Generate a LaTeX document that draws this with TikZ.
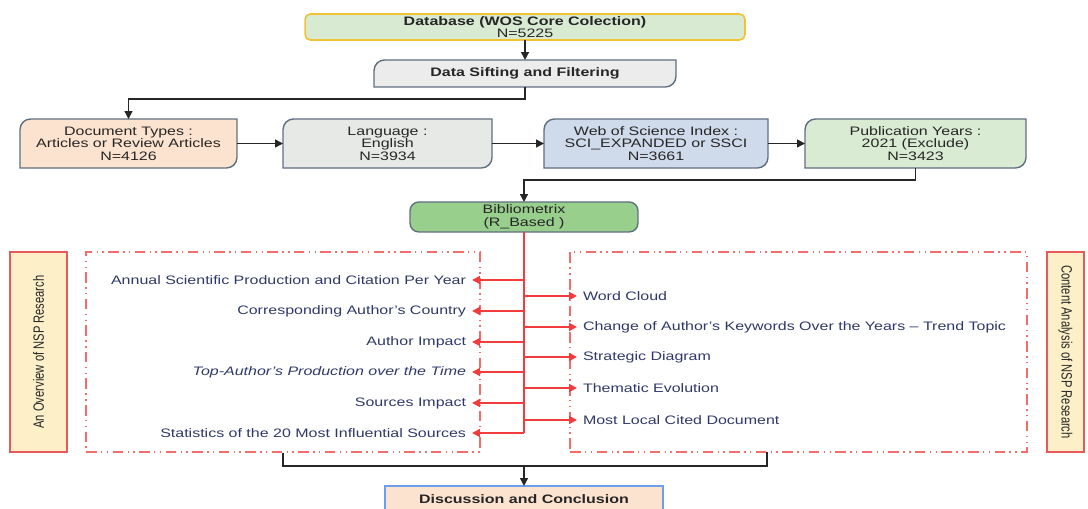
\documentclass[tikz,border=0pt]{standalone}
\usepackage{fontspec}
\setmainfont{Liberation Sans}[FakeStretch=1.3]
\newfontfamily\sidefont{Liberation Sans}[FakeStretch=0.75]
\usetikzlibrary{arrows.meta,backgrounds}

\definecolor{dbgreen}{HTML}{D9EAD3}
\definecolor{dbyellow}{HTML}{F1C232}
\definecolor{siftgray}{HTML}{ECECEC}
\definecolor{slate}{HTML}{5F6F82}
\definecolor{peach}{HTML}{FCE3CF}
\definecolor{langgray}{HTML}{E7E9E7}
\definecolor{wosblue}{HTML}{CFDBEA}
\definecolor{pubgreen}{HTML}{DAEBD4}
\definecolor{bibgreen}{HTML}{98CF8C}
\definecolor{sideyellow}{HTML}{FDF0C9}
\definecolor{sidered}{HTML}{E85A5A}
\definecolor{itemblue}{HTML}{2E3868}
\definecolor{branchred}{HTML}{F03C3C}
\definecolor{discblue}{HTML}{6D9EEB}

% outline with rounded top-left and bottom-right corners
\newcommand{\diagoutline}[3]{%
  \begin{pgfonlayer}{background}
    \filldraw[fill=#2,draw=#3,line width=0.8pt]
      (#1.south west) -- ([yshift=-6pt]#1.north west)
      arc[start angle=180,end angle=90,radius=6pt] -- (#1.north east)
      -- ([yshift=6pt]#1.south east)
      arc[start angle=0,end angle=-90,radius=6pt] -- cycle;
  \end{pgfonlayer}}

\begin{document}
\begin{tikzpicture}[x=0.02cm,y=0.02cm,
  font=\fontsize{7}{7.2}\selectfont,
  box/.style={align=center,inner sep=0pt,outer sep=0pt,text=black!85},
  sidebox/.style={draw=sidered,fill=sideyellow,line width=0.9pt,inner sep=0pt,
    font=\sidefont\fontsize{8.5}{9}\selectfont,text=black!85},
  dashbox/.style={draw=branchred!75,line width=1pt,inner sep=0pt,
    dash pattern=on 6pt off 2.5pt on 0.8pt off 2.5pt on 0.8pt off 2.5pt},
  item/.style={text=itemblue,inner ysep=0pt,inner xsep=0.12cm,outer sep=0pt},
  arr/.style={-{Triangle[length=4.5pt,width=4.5pt]},line width=0.75pt,draw=black!85},
  link/.style={line width=0.75pt,draw=black!85},
  redarr/.style={-{Triangle[length=4.5pt,width=4.5pt]},line width=0.9pt,draw=branchred},
  redline/.style={line width=0.9pt,draw=branchred}]
\useasboundingbox (0,0) rectangle (1088,509);

% top of the flow
\node[box,draw=dbyellow,fill=dbgreen,line width=0.9pt,rounded corners=3pt,
  minimum width=8.8cm,minimum height=0.52cm] (db) at (525,482)
  {\textbf{Database (WOS Core Colection)}\\N=5225};
\node[box,minimum width=6.04cm,minimum height=0.54cm] (sift) at (525,435.5)
  {\textbf{Data Sifting and Filtering}};
\diagoutline{sift}{siftgray}{slate}

% filtering steps
\node[box,minimum width=4.34cm,minimum height=0.98cm] (doc) at (128.5,365.5)
  {Document Types :\\Articles or Review Articles\\N=4126};
\node[box,minimum width=4.18cm,minimum height=0.98cm] (lang) at (387.5,365.5)
  {Language :\\English\\N=3934};
\node[box,minimum width=4.48cm,minimum height=0.98cm] (wos) at (656,365.5)
  {Web of Science Index :\\SCI\_EXPANDED or SSCI\\N=3661};
\node[box,minimum width=4.42cm,minimum height=0.98cm] (pub) at (915.5,365.5)
  {Publication Years :\\2021 (Exclude)\\N=3423};
\diagoutline{doc}{peach}{slate}
\diagoutline{lang}{langgray}{slate}
\diagoutline{wos}{wosblue}{slate}
\diagoutline{pub}{pubgreen}{slate}

\node[box,draw=slate,fill=bibgreen,line width=0.8pt,rounded corners=5pt,
  minimum width=4.56cm,minimum height=0.6cm] (bib) at (524,292)
  {Bibliometrix\\(R\_Based )};

\draw[arr] (db.south) -- (sift.north);
\draw[arr] (sift.south) -- ++(0,-12) -| (doc.north);
\draw[arr] (doc.east) -- (lang.west);
\draw[arr] (lang.east) -- (wos.west);
\draw[arr] (wos.east) -- (pub.west);
\draw[arr] (pub.south) -- ++(0,-12) -| (bib.north);

% side labels and groups
\node[sidebox,rotate=90,minimum width=4cm,minimum height=1.14cm] (over) at (38.5,157)
  {An Overview of NSP Research};
\node[sidebox,rotate=-90,minimum width=4cm,minimum height=0.74cm] (content) at (1065.5,157)
  {Content Analysis of NSP Research};
\node[dashbox,minimum width=7.88cm,minimum height=4cm] (lgroup) at (283,157) {};
\node[dashbox,minimum width=9.14cm,minimum height=4cm] (rgroup) at (798.5,157) {};

% bibliometric analyses
\node[item,anchor=east] (a1) at (472,229) {Annual Scientific Production and Citation Per Year};
\node[item,anchor=east] (a2) at (472,198) {Corresponding Author's Country};
\node[item,anchor=east] (a3) at (472,167) {Author Impact};
\node[item,anchor=east] (a4) at (472,137) {\itshape Top-Author's Production over the Time};
\node[item,anchor=east] (a5) at (472,106) {Sources Impact};
\node[item,anchor=east] (a6) at (472,76) {Statistics of the 20 Most Influential Sources};

\node[item,anchor=west] (b1) at (577,213) {Word Cloud};
\node[item,anchor=west] (b2) at (577,182) {Change of Author's Keywords Over the Years -- Trend Topic};
\node[item,anchor=west] (b3) at (577,152) {Strategic Diagram};
\node[item,anchor=west] (b4) at (577,121) {Thematic Evolution};
\node[item,anchor=west] (b5) at (577,89) {Most Local Cited Document};

\coordinate (trunk) at (bib.south |- a6.east);
\draw[redline] (bib.south) -- (trunk);
\foreach \n in {a1,a2,a3,a4,a5,a6}
  \draw[redarr] (trunk |- \n.east) -- (\n.east);
\foreach \n in {b1,b2,b3,b4,b5}
  \draw[redarr] (trunk |- \n.west) -- (\n.west);

% conclusion
\node[box,draw=discblue,fill=peach,line width=0.8pt,
  minimum width=5.56cm,minimum height=0.52cm] (disc) at (524,10)
  {\textbf{Discussion and Conclusion}};
\coordinate (rfoot) at (767,57);
\coordinate (split) at (524,43);
\draw[link] (lgroup.south) |- (split) -| (rfoot);
\draw[arr] (split) -- (disc.north);
\end{tikzpicture}
\end{document}
